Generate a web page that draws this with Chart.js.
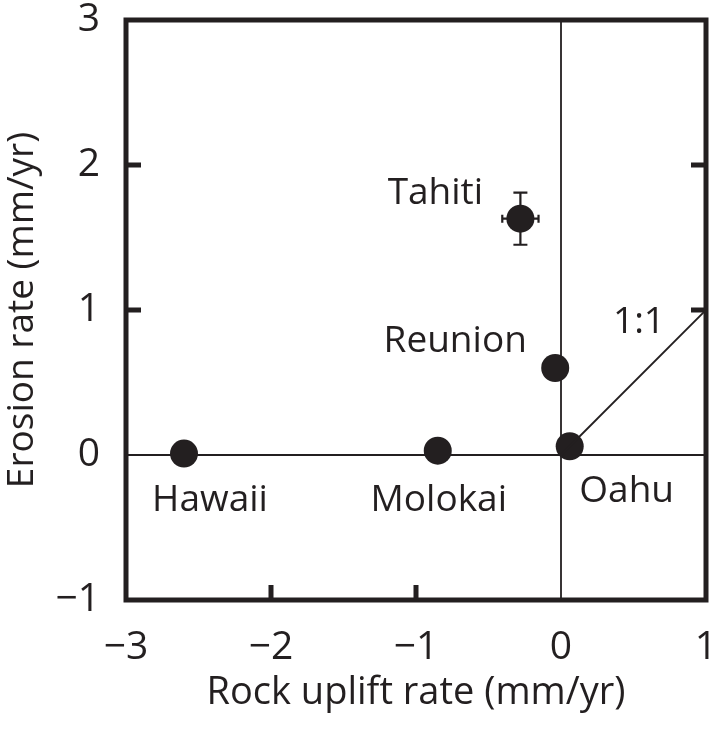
<!DOCTYPE html>
<html>
<head>
<meta charset="utf-8">
<script src="https://cdn.jsdelivr.net/npm/chart.js@4/dist/chart.umd.min.js"></script>
<style>
  html, body { margin: 0; padding: 0; background: #fff; }
  #wrap { width: 715px; height: 742px; position: relative; }
</style>
</head>
<body>
<div id="wrap"><canvas id="c" width="715" height="742"></canvas></div>
<script>
// Island sites: rock uplift vs. erosion rate (mm/yr)
const sites      = ['Hawaii', 'Molokai', 'Tahiti', 'Reunion', 'Oahu'];
const upliftRate = [-2.60, -0.85, -0.28, -0.04, 0.06];
const erosionRate = [0.01, 0.03, 1.63, 0.60, 0.06];
const upliftErr  = [0, 0, 0.125, 0, 0];
const erosionErr = [0, 0, 0.18, 0.06, 0];
const oneToOne   = [[0, 0], [1, 1]];
const xTicks = [-3, -2, -1, 0, 1];
const yTicks = [-1, 0, 1, 2, 3];

const INK = '#231f20';
const FONT = '"Open Sans", "Noto Sans", sans-serif';

// label placement relative to each marker (pixels)
const labelOffset = {
  Hawaii:  [26, 57],
  Molokai: [1, 60],
  Tahiti:  [-85, -15],
  Reunion: [-100, -16],
  Oahu:    [57, 56]
};

const minus = v => String(v).replace('-', '\u2212');

const framePlugin = {
  id: 'frame',
  beforeDatasetsDraw(chart) {
    const { ctx, chartArea: a, scales: { x, y } } = chart;
    ctx.save();
    ctx.strokeStyle = INK;
    // zero reference lines
    ctx.lineWidth = 1.8;
    ctx.beginPath();
    const x0 = x.getPixelForValue(0), y0 = y.getPixelForValue(0);
    ctx.moveTo(a.left, y0); ctx.lineTo(a.right, y0);
    ctx.moveTo(x0, a.top); ctx.lineTo(x0, a.bottom);
    ctx.stroke();
    // error bars
    ctx.lineWidth = 2.2;
    sites.forEach((s, i) => {
      const px = x.getPixelForValue(upliftRate[i]);
      const py = y.getPixelForValue(erosionRate[i]);
      if (erosionErr[i] > 0) {
        const t = y.getPixelForValue(erosionRate[i] + erosionErr[i]);
        const b = y.getPixelForValue(erosionRate[i] - erosionErr[i]);
        const cap = upliftErr[i] > 0 ? 7 : 0;
        ctx.beginPath();
        ctx.moveTo(px, t); ctx.lineTo(px, b);
        if (cap) {
          ctx.moveTo(px - cap, t); ctx.lineTo(px + cap, t);
          ctx.moveTo(px - cap, b); ctx.lineTo(px + cap, b);
        }
        ctx.stroke();
      }
      if (upliftErr[i] > 0) {
        const l = x.getPixelForValue(upliftRate[i] - upliftErr[i]);
        const r = x.getPixelForValue(upliftRate[i] + upliftErr[i]);
        ctx.beginPath();
        ctx.moveTo(l, py); ctx.lineTo(r, py);
        ctx.moveTo(l, py - 4); ctx.lineTo(l, py + 4);
        ctx.moveTo(r, py - 4); ctx.lineTo(r, py + 4);
        ctx.stroke();
      }
    });
    ctx.restore();
  },
  afterDatasetsDraw(chart) {
    const { ctx, chartArea: a, scales: { x, y } } = chart;
    ctx.save();
    ctx.strokeStyle = INK;
    ctx.lineWidth = 5;
    ctx.strokeRect(a.left, a.top, a.right - a.left, a.bottom - a.top);
    // inward ticks
    const len = 15;
    ctx.beginPath();
    xTicks.forEach(v => {
      if (v === 0 || v === xTicks[0] || v === xTicks[xTicks.length - 1]) return;
      const px = x.getPixelForValue(v);
      ctx.moveTo(px, a.bottom); ctx.lineTo(px, a.bottom - len);
    });
    yTicks.forEach(v => {
      if (v === 0 || v === yTicks[0] || v === yTicks[yTicks.length - 1]) return;
      const py = y.getPixelForValue(v);
      ctx.moveTo(a.left, py); ctx.lineTo(a.left + len, py);
      ctx.moveTo(a.right, py); ctx.lineTo(a.right - len, py);
    });
    ctx.stroke();
    // site labels
    ctx.fillStyle = INK;
    ctx.font = '37px ' + FONT;
    ctx.textAlign = 'center';
    ctx.textBaseline = 'alphabetic';
    sites.forEach((s, i) => {
      const px = x.getPixelForValue(upliftRate[i]);
      const py = y.getPixelForValue(erosionRate[i]);
      const o = labelOffset[s];
      ctx.fillText(s, px + o[0], py + o[1]);
    });
    const ex = x.getPixelForValue(oneToOne[1][0]);
    const ey = y.getPixelForValue(oneToOne[1][1]);
    ctx.fillText('1:1', ex - 67, ey + 23);
    ctx.restore();
  }
};

new Chart(document.getElementById('c'), {
  type: 'scatter',
  data: {
    datasets: [
      {
        data: oneToOne.map(p => ({ x: p[0], y: p[1] })),
        showLine: true,
        borderColor: INK,
        borderWidth: 1.8,
        pointRadius: 0
      },
      {
        data: upliftRate.map((v, i) => ({ x: v, y: erosionRate[i] })),
        backgroundColor: INK,
        borderColor: INK,
        borderWidth: 0,
        pointRadius: 14,
        pointHoverRadius: 14
      }
    ]
  },
  options: {
    responsive: false,
    animation: false,
    events: [],
    layout: { autoPadding: false, padding: { top: 20, right: 9, left: 0, bottom: 0 } },
    plugins: { legend: { display: false }, tooltip: { enabled: false } },
    scales: {
      x: {
        type: 'linear', min: -3, max: 1,
        afterBuildTicks: s => { s.ticks = xTicks.map(v => ({ value: v })); },
        ticks: { callback: minus, color: INK, font: { size: 39, family: FONT }, padding: 16, maxRotation: 0 },
        grid: { display: false },
        border: { display: false },
        title: { display: true, text: 'Rock uplift rate (mm/yr)', color: INK, font: { size: 38, family: FONT }, padding: { top: 6, bottom: 26 } },
        afterFit: s => { s.height = 142; s.paddingLeft = 0; s.paddingRight = 0; }
      },
      y: {
        type: 'linear', min: -1, max: 3,
        afterBuildTicks: s => { s.ticks = yTicks.map(v => ({ value: v })); },
        ticks: { callback: minus, color: INK, font: { size: 39, family: FONT }, padding: 18 },
        grid: { display: false },
        border: { display: false },
        title: { display: true, text: 'Erosion rate (mm/yr)', color: INK, font: { size: 37, family: FONT }, padding: { top: 0, bottom: 4 } },
        afterFit: s => { s.width = 126; s.paddingTop = 0; s.paddingBottom = 0; }
      }
    }
  },
  plugins: [framePlugin]
});
</script>
</body>
</html>
